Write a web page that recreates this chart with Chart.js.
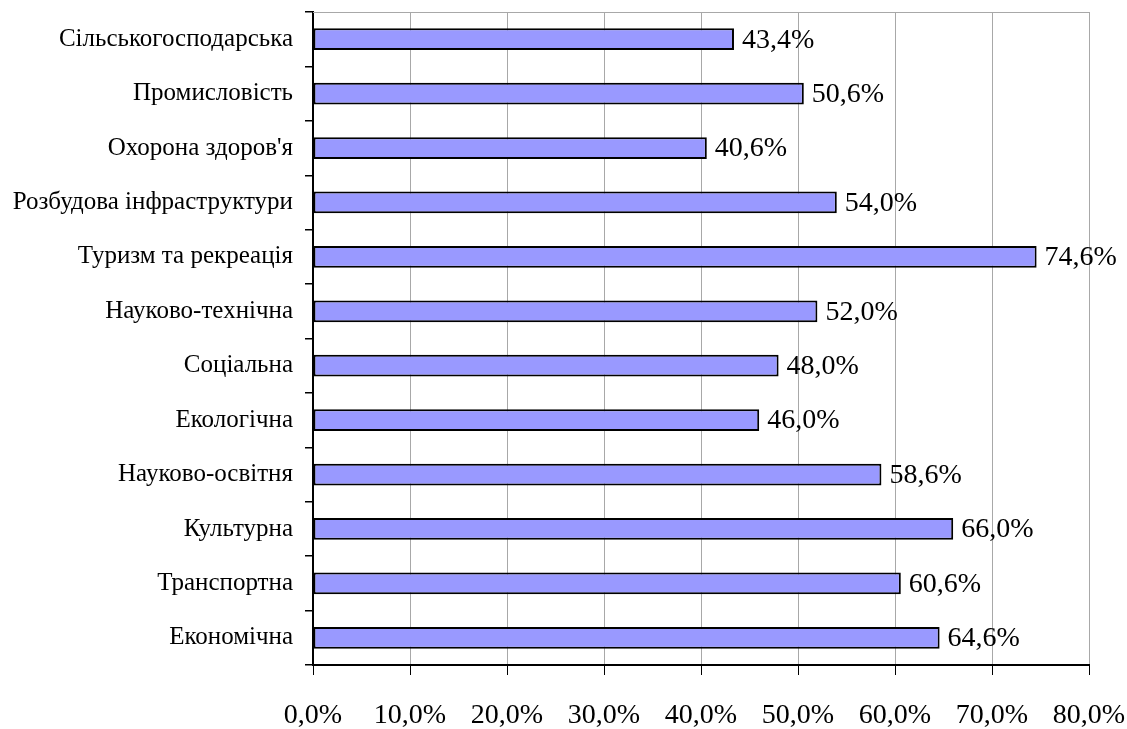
<!DOCTYPE html>
<html lang="uk">
<head>
<meta charset="utf-8">
<title>Напрями діяльності</title>
<script src="https://cdn.jsdelivr.net/npm/chart.js@4/dist/chart.umd.min.js"></script>
<style>
  html, body { margin: 0; padding: 0; background: #ffffff; }
  #wrap { width: 1127px; height: 729px; position: relative; }
</style>
</head>
<body>
<div id="wrap"><canvas id="chart"></canvas></div>
<script>
// Categories, top to bottom
const categories = [
  'Сільськогосподарська',
  'Промисловість',
  "Охорона здоров'я",
  'Розбудова інфраструктури',
  'Туризм та рекреація',
  'Науково-технічна',
  'Соціальна',
  'Екологічна',
  'Науково-освітня',
  'Культурна',
  'Транспортна',
  'Економічна'
];

// Share of respondents, %
const shares = [43.4, 50.6, 40.6, 54.0, 74.6, 52.0, 48.0, 46.0, 58.6, 66.0, 60.6, 64.6];

// Horizontal axis tick values and their labels
const tickValues = [0, 10, 20, 30, 40, 50, 60, 70, 80];
const tickLabels = ['0,0%', '10,0%', '20,0%', '30,0%', '40,0%', '50,0%', '60,0%', '70,0%', '80,0%'];

const FONT = "'Liberation Serif', 'Times New Roman', serif";

const fmt = v => v.toFixed(1).replace('.', ',') + '%';

// Value labels to the right of each bar
const valueLabels = {
  id: 'valueLabels',
  afterDatasetsDraw(chart) {
    const ctx = chart.ctx;
    const meta = chart.getDatasetMeta(0);
    ctx.save();
    ctx.font = '28px ' + FONT;
    ctx.fillStyle = '#000000';
    ctx.textAlign = 'left';
    ctx.textBaseline = 'middle';
    meta.data.forEach((bar, i) => {
      ctx.fillText(fmt(shares[i]), bar.x + 8, bar.y + 1);
    });
    ctx.restore();
  }
};

// Thin grey frame line along the top of the plot area
const topFrame = {
  id: 'topFrame',
  beforeDatasetsDraw(chart) {
    const { ctx, chartArea } = chart;
    ctx.save();
    ctx.strokeStyle = '#a8a8a8';
    ctx.lineWidth = 1;
    ctx.beginPath();
    ctx.moveTo(chartArea.left, chartArea.top + 0.5);
    ctx.lineTo(chartArea.right, chartArea.top + 0.5);
    ctx.stroke();
    ctx.restore();
  }
};

new Chart(document.getElementById('chart'), {
  type: 'bar',
  data: {
    labels: categories,
    datasets: [{
      data: shares,
      backgroundColor: '#9999ff',
      borderColor: '#000000',
      borderWidth: 2,
      borderSkipped: false,
      barPercentage: 0.4,
      categoryPercentage: 1.0
    }]
  },
  options: {
    indexAxis: 'y',
    responsive: true,
    maintainAspectRatio: false,
    animation: false,
    layout: { padding: { top: 12, right: 38, bottom: 0, left: 0 } },
    plugins: {
      legend: { display: false },
      tooltip: { enabled: false }
    },
    scales: {
      x: {
        min: 0,
        max: 80,
        afterBuildTicks(axis) {
          axis.ticks = tickValues.map(v => ({ value: v }));
        },
        afterFit(axis) {
          axis.height = 64;
          axis.paddingLeft = 0;
          axis.paddingRight = 0;
        },
        grid: {
          color: '#a8a8a8',
          tickColor: '#000000',
          tickLength: 10,
          lineWidth: 1
        },
        border: { color: '#000000', width: 2 },
        ticks: {
          padding: 24,
          color: '#000000',
          font: { family: FONT, size: 28 },
          callback: (value) => tickLabels[tickValues.indexOf(value)]
        }
      },
      y: {
        afterFit(axis) {
          axis.width = 313;
          axis.paddingTop = 0;
          axis.paddingBottom = 0;
        },
        grid: {
          offset: true,
          drawOnChartArea: false,
          tickColor: '#000000',
          tickLength: 8,
          lineWidth: 1.5
        },
        border: { color: '#000000', width: 2 },
        ticks: {
          padding: 12,
          color: '#000000',
          font: { family: FONT, size: 25 }
        }
      }
    }
  },
  plugins: [topFrame, valueLabels]
});
</script>
</body>
</html>
